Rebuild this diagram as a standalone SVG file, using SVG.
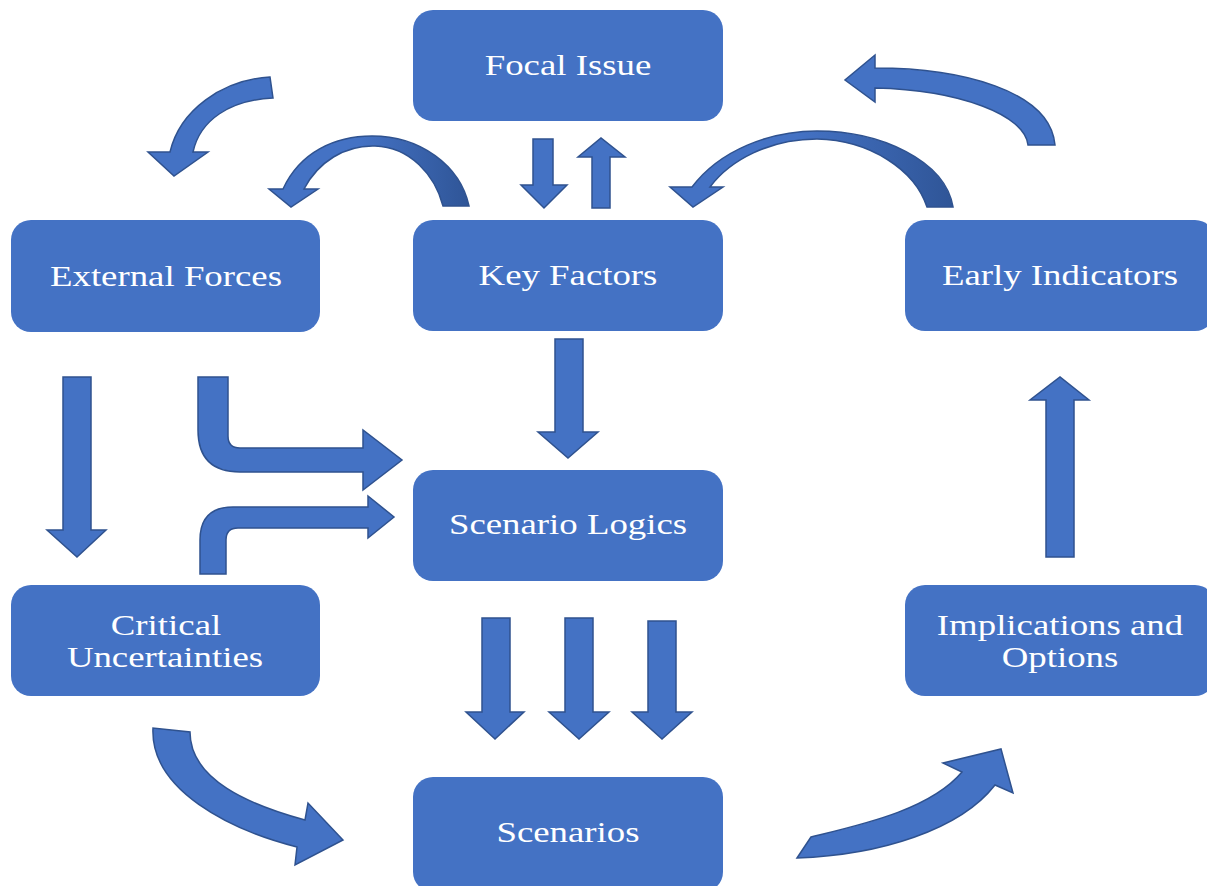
<svg xmlns="http://www.w3.org/2000/svg" width="1207" height="886" viewBox="0 0 1207 886">
<defs>
<style>
.box{fill:#4472C4;}
.lbl{fill:#ffffff;font-family:"Liberation Serif","Times New Roman",serif;font-size:29px;text-anchor:middle;}
.arr{fill:#4472C4;stroke:#2F528F;stroke-width:1.5;stroke-linejoin:miter;}
</style>
<linearGradient id="g1" x1="0" y1="0" x2="1" y2="0">
<stop offset="0" stop-color="#4472C4"/>
<stop offset="0.45" stop-color="#4472C4"/>
<stop offset="1" stop-color="#2F5597"/>
</linearGradient>
</defs>
<rect width="1207" height="886" fill="#ffffff"/>

<g id="focal-issue"><rect class="box" x="413" y="10" width="310" height="111" rx="20"/><text class="lbl" transform="translate(568 75) scale(1.27 1)">Focal Issue</text></g>
<g id="external-forces"><rect class="box" x="11" y="220" width="309" height="112" rx="20"/><text class="lbl" transform="translate(166 286) scale(1.27 1)">External Forces</text></g>
<g id="key-factors"><rect class="box" x="413" y="220" width="310" height="111" rx="20"/><text class="lbl" transform="translate(568 285) scale(1.27 1)">Key Factors</text></g>
<g id="early-indicators"><rect class="box" x="905" y="220" width="310" height="111" rx="20"/><text class="lbl" transform="translate(1060 285) scale(1.27 1)">Early Indicators</text></g>
<g id="scenario-logics"><rect class="box" x="413" y="470" width="310" height="111" rx="20"/><text class="lbl" transform="translate(568 534) scale(1.27 1)">Scenario Logics</text></g>
<g id="critical-uncertainties"><rect class="box" x="11" y="585" width="309" height="111" rx="20"/><text class="lbl" transform="translate(166 635) scale(1.27 1)">Critical</text><text class="lbl" transform="translate(165 667) scale(1.27 1)">Uncertainties</text></g>
<g id="implications-options"><rect class="box" x="905" y="585" width="310" height="111" rx="20"/><text class="lbl" transform="translate(1060 635) scale(1.27 1)">Implications and</text><text class="lbl" transform="translate(1060 667) scale(1.27 1)">Options</text></g>
<g id="scenarios"><rect class="box" x="413" y="777" width="310" height="115" rx="20"/><text class="lbl" transform="translate(568 842) scale(1.27 1)">Scenarios</text></g>

<g id="connectors">
<path class="arr" d="M533 139 L553 139 L553 185 L567 185 L544 208 L521 185 L533 185 Z"/>
<path class="arr" d="M592 208 L610 208 L610 157 L625 157 L601 138 L578 157 L592 157 Z"/>
<path class="arr" d="M555 339 L583 339 L583 432 L598 432 L568 458 L538 432 L555 432 Z"/>
<path class="arr" d="M63 377 L91 377 L91 530 L106 530 L77 557 L47 530 L63 530 Z"/>
<path class="arr" d="M1046 557 L1074 557 L1074 400 L1089 400 L1060 377 L1030 400 L1046 400 Z"/>
<path class="arr" d="M482 618 L510 618 L510 712 L524 712 L495 739 L466 712 L482 712 Z"/>
<path class="arr" d="M565 618 L593 618 L593 712 L609 712 L579 739 L549 712 L565 712 Z"/>
<path class="arr" d="M648 621 L676 621 L676 712 L692 712 L662 739 L632 712 L648 712 Z"/>
<path class="arr" d="M198 377 L228 377 L228 436 Q228 448 240 448 L363 448 L363 430 L402 460 L363 490 L363 472 L240 472 Q198 472 198 430 Z"/>
<path class="arr" d="M200 574 L200 540 Q200 507 233 507 L368 507 L368 496 L394 517 L368 538 L368 528 L238 528 Q226 528 226 540 L226 574 Z"/>
<path class="arr" d="M270 77 C222 80 180 110 170 152 L148 152 L174 176 L208 152 L193 152 C200 120 230 100 273 98 Z"/>
<path class="arr" style="fill:url(#g1)" d="M283 189 C300 152 335 136 372 136 C420 136 460 165 469 206 L443 206 C435 175 410 147 375 146 C345 145 318 162 304 189 L318 189 L291 207 L269 189 Z"/>
<path class="arr" style="fill:url(#g1)" d="M692 187 C720 150 770 131 817 131 C880 131 945 160 953 207 L927 207 C915 170 870 140 817 139 C770 139 730 160 710 187 L723 187 L693 207 L670 187 Z"/>
<path class="arr" d="M875 68 C960 68 1050 90 1055 145 L1028 145 C1025 115 960 90 875 88 L875 102 L845 80 L875 55 Z"/>
<path class="arr" d="M153 728 C150 790 230 830 297 847 L295 865 L343 840 L308 803 L305 820 C250 805 190 780 190 732 Z"/>
<path class="arr" d="M797 858 L811 837 C860 825 930 810 962 772 L943 763 L1001 749 L1013 793 L995 785 C960 830 880 855 797 858 Z"/>
</g>
</svg>
